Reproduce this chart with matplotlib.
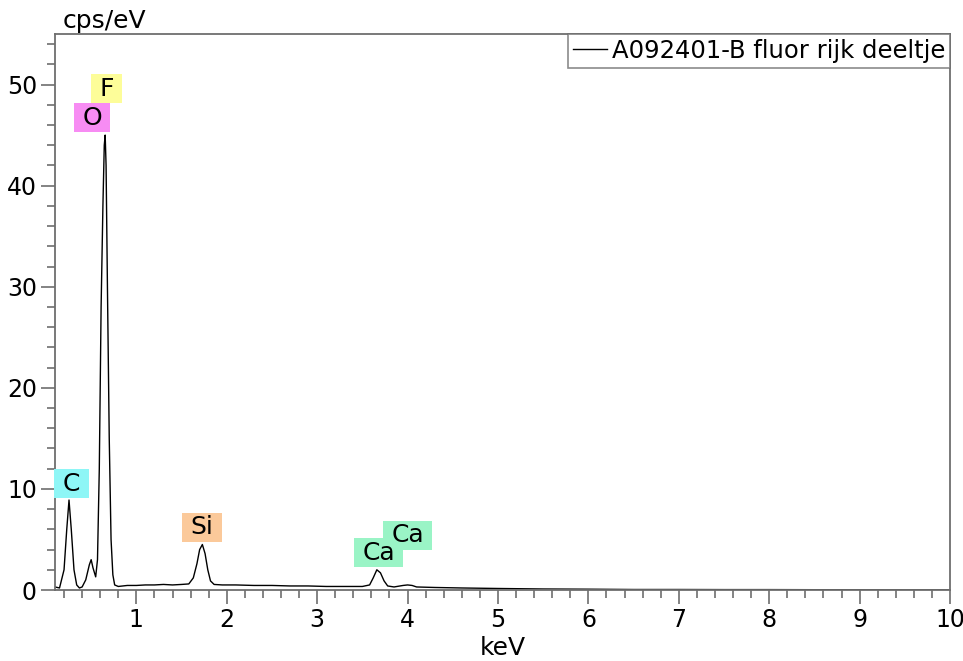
import matplotlib
matplotlib.use("Agg")
import matplotlib.pyplot as plt
from matplotlib.patches import Rectangle
from matplotlib.ticker import MultipleLocator

# spectrum (keV, cps/eV)
energy = [0.10, 0.15, 0.20, 0.23, 0.255, 0.28, 0.31, 0.34, 0.37, 0.40,
          0.44, 0.48, 0.50, 0.52, 0.55, 0.57, 0.59, 0.61, 0.63, 0.645,
          0.655, 0.665, 0.68, 0.70, 0.72, 0.74, 0.76, 0.80, 0.90, 1.00,
          1.10, 1.20, 1.30, 1.40, 1.50, 1.58, 1.63, 1.67, 1.70, 1.73,
          1.76, 1.79, 1.82, 1.86, 1.95, 2.10, 2.30, 2.50, 2.70, 2.90,
          3.10, 3.30, 3.50, 3.58, 3.62, 3.66, 3.70, 3.74, 3.78, 3.85,
          3.95, 4.00, 4.05, 4.10, 4.30, 4.60, 5.00, 5.50, 6.00, 6.50,
          7.00, 7.50, 8.00, 8.50, 9.00, 9.50, 10.0]
counts = [0.3, 0.2, 2.0, 6.0, 8.9, 6.0, 2.0, 0.5, 0.2, 0.3,
          1.0, 2.5, 3.0, 2.2, 1.3, 3.0, 12.0, 28.0, 38.0, 44.0,
          45.0, 42.0, 30.0, 15.0, 5.0, 1.5, 0.5, 0.35, 0.45, 0.45,
          0.5, 0.5, 0.55, 0.5, 0.55, 0.6, 1.2, 2.6, 4.0, 4.5,
          3.6, 2.0, 0.9, 0.55, 0.5, 0.5, 0.45, 0.45, 0.4, 0.4,
          0.35, 0.35, 0.35, 0.5, 1.2, 2.0, 1.7, 0.9, 0.4, 0.3,
          0.45, 0.5, 0.45, 0.3, 0.25, 0.2, 0.15, 0.1, 0.08, 0.05,
          0.05, 0.04, 0.04, 0.03, 0.02, 0.01, 0.01]

# element markers: label, energy, height, colour
labels = ["C", "O", "F", "Si", "Ca", "Ca"]
label_x = [0.282, 0.509, 0.669, 1.726, 3.678, 3.999]
label_y = [10.5, 46.7, 49.6, 6.2, 3.7, 5.4]
label_colors = ["#8ef6f6", "#f78cf3", "#fdfd99", "#fbc99a", "#9af4c6", "#9af4c6"]

plt.rcParams['font.family'] = ['DejaVu Sans']
fig = plt.figure(figsize=(9.63, 6.61), dpi=100)
ax = fig.add_axes([55 / 963, 71 / 661, 895 / 963, 556 / 661])

ax.plot(energy, counts, color='black', lw=1.0,
        label='A092401-B fluor rijk deeltje')

ax.set_xlim(0.1, 10)
ax.set_ylim(0, 55)
ax.xaxis.set_major_locator(MultipleLocator(1))
ax.xaxis.set_minor_locator(MultipleLocator(0.2))
ax.yaxis.set_major_locator(MultipleLocator(10))
ax.yaxis.set_minor_locator(MultipleLocator(2))

grey = '#6e6e6e'
for s in ax.spines.values():
    s.set_color(grey)
    s.set_linewidth(1.3)
ax.tick_params(which='major', direction='out', length=10, width=1.2,
               color=grey, labelsize=17, pad=3)
ax.tick_params(which='minor', direction='out', length=6, width=1.2, color=grey)

ax.set_xlabel('keV', fontsize=18, labelpad=3)
ax.text(63 / 963, 1 - 28 / 661, 'cps/eV', transform=fig.transFigure,
        fontsize=18, ha='left', va='baseline')

leg = ax.legend(loc='upper right', fontsize=17.5, frameon=True, fancybox=False,
                borderaxespad=0, borderpad=0.2, handlelength=1.4,
                handletextpad=0.2)
leg.get_frame().set_edgecolor(grey)
leg.get_frame().set_linewidth(1.2)

texts = []
for lab, x, y in zip(labels, label_x, label_y):
    t = ax.text(x, y, lab, fontsize=18, ha='center', va='center', zorder=6)
    texts.append(t)

# coloured boxes behind the element labels, a bit wider than the text
fig.canvas.draw()
renderer = fig.canvas.get_renderer()
for t, c in zip(texts, label_colors):
    bb = t.get_window_extent(renderer)
    cx = (bb.x0 + bb.x1) / 2
    cy = (bb.y0 + bb.y1) / 2
    w = bb.width + 17
    h = 29
    r = Rectangle((cx - w / 2, cy - h / 2), w, h, transform=None,
                  facecolor=c, edgecolor='none', zorder=5, clip_on=False)
    ax.add_artist(r)

fig.savefig('out.png', dpi=100)
